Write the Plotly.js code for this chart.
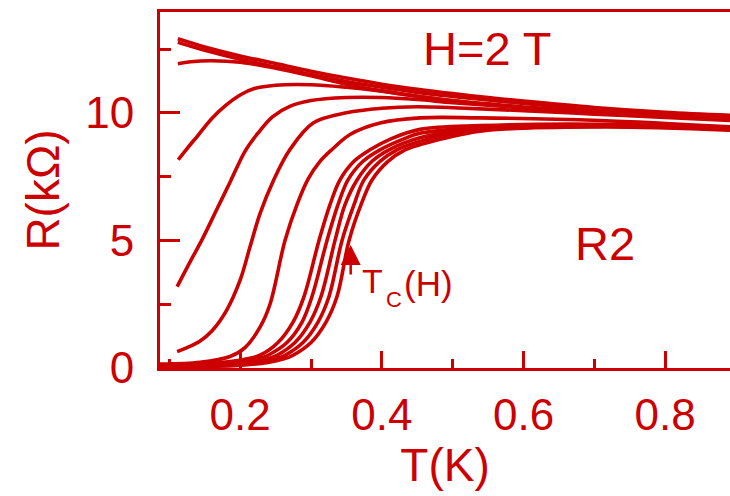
<!DOCTYPE html>
<html>
<head>
<meta charset="utf-8">
<script src="https://cdn.plot.ly/plotly-3.0.1.min.js"></script>
<style>html,body{margin:0;padding:0;background:#fff;}#chart{width:730px;height:496px;}</style>
</head>
<body>
<div id="chart"></div>
<script>
// Temperature (K) and resistance (kOhm) for each field curve
const T_A = [0.112,0.15,0.2,0.25,0.3,0.35,0.4,0.45,0.5,0.55,0.6,0.7,0.8,0.8915];
const R_A = [12.9,12.58,12.23,11.93,11.63,11.36,11.12,10.92,10.75,10.6,10.46,10.21,10.02,9.9];
const T_B = [0.112,0.15,0.2,0.25,0.3,0.35,0.4,0.45,0.5,0.55,0.6,0.7,0.8,0.8915];
const R_B = [12.76,12.45,12.1,11.8,11.5,11.23,11.0,10.8,10.64,10.5,10.37,10.14,9.97,9.86];
const T_C = [0.112,0.13,0.16,0.2,0.25,0.3,0.35,0.4,0.45,0.5,0.55,0.6,0.7,0.8,0.8915];
const R_C = [11.92,12.0,12.04,11.98,11.75,11.45,11.12,10.86,10.65,10.48,10.35,10.23,10.06,9.94,9.82];
const T_D = [0.1125,0.125,0.14,0.16,0.18,0.2,0.22,0.25,0.3,0.35,0.4,0.45,0.5,0.55,0.6,0.7,0.8,0.8915];
const R_D = [8.16,8.6,9.1,9.78,10.3,10.7,10.95,11.08,11.1,11.0,10.85,10.65,10.47,10.32,10.2,10.03,9.9,9.78];
const T_E = [0.111,0.13,0.146,0.165,0.186,0.207,0.225,0.246,0.27,0.3,0.35,0.4,0.45,0.5,0.6,0.7,0.8,0.8915];
const R_E = [3.19,4.2,5.02,6.1,7.3,8.5,9.2,9.85,10.25,10.48,10.6,10.6,10.52,10.4,10.2,10.02,9.88,9.75];
const T_F = [0.111,0.125,0.143,0.16,0.181,0.2,0.214,0.228,0.247,0.27,0.303,0.35,0.4,0.45,0.5,0.6,0.7,0.8,0.8915];
const R_F = [0.64,0.8,1.05,1.45,2.27,3.45,4.76,6.05,7.35,8.55,9.6,10.0,10.18,10.24,10.2,10.08,9.95,9.82,9.7];
const T_G = [0.0868,0.1433,0.1857,0.2068,0.228,0.2421,0.2633,0.2802,0.2958,0.3127,0.3311,0.3551,0.3974,0.4539,0.5386,0.708,0.8915];
const R_G = [0.15,0.22,0.45,0.8,1.6,2.5,5.0,6.4,7.4,8.1,8.6,9.15,9.6,9.8,9.8,9.7,9.45];
const T_H = [0.0868,0.1433,0.1857,0.2139,0.228,0.2534,0.2746,0.2901,0.3113,0.3268,0.3409,0.3607,0.3833,0.4144,0.4539,0.5386,0.708,0.8915];
const R_H = [0.1,0.15,0.25,0.38,0.5,1.0,1.8,2.8,5.0,6.4,7.37,8.1,8.55,9.0,9.35,9.5,9.55,9.42];
const T_I = [0.0868,0.1645,0.2068,0.2266,0.2393,0.2661,0.2873,0.3014,0.3226,0.3381,0.3522,0.3734,0.3974,0.4327,0.4539,0.5386,0.708,0.8915];
const R_I = [0.08,0.13,0.25,0.36,0.5,1.0,1.8,2.8,5.0,6.4,7.37,8.1,8.55,9.0,9.2,9.42,9.52,9.4];
const T_J = [0.0868,0.1744,0.2167,0.2393,0.252,0.2774,0.2986,0.3141,0.3339,0.348,0.365,0.3861,0.4101,0.4539,0.5386,0.708,0.8915];
const R_J = [0.07,0.12,0.24,0.36,0.5,1.0,1.8,2.8,5.0,6.4,7.37,8.1,8.55,9.02,9.38,9.5,9.37];
const T_K = [0.0868,0.1857,0.228,0.2506,0.2633,0.2887,0.3099,0.3254,0.3438,0.3607,0.3748,0.3974,0.4214,0.4539,0.5386,0.708,0.8915];
const R_K = [0.06,0.11,0.22,0.36,0.5,1.0,1.8,2.8,5.0,6.4,7.37,8.1,8.55,8.88,9.32,9.47,9.35];
const T_L = [0.0868,0.197,0.2393,0.2619,0.2746,0.3,0.3212,0.3367,0.3537,0.3706,0.3861,0.4087,0.4327,0.4539,0.5386,0.708,0.8915];
const R_L = [0.05,0.1,0.22,0.36,0.5,1.0,1.8,2.8,5.0,6.4,7.37,8.1,8.55,8.75,9.28,9.45,9.32];

const xTicks = [0.2, 0.4, 0.6, 0.8];
const xTickText = ['0.2', '0.4', '0.6', '0.8'];
const yTicks = [0, 5, 10];
const yTickText = ['0', '5', '10'];

const RED = '#cc0000';
const FONT = 'Liberation Sans, Arial, Helvetica, sans-serif';

const curves = [
  [T_A, R_A], [T_B, R_B], [T_C, R_C], [T_D, R_D], [T_E, R_E], [T_F, R_F],
  [T_G, R_G], [T_H, R_H], [T_I, R_I], [T_J, R_J], [T_K, R_K], [T_L, R_L]
];

const traces = curves.map(function (c) {
  return {
    x: c[0], y: c[1], type: 'scatter', mode: 'lines',
    line: {color: RED, width: 3.6, shape: 'spline', smoothing: 1},
    hoverinfo: 'skip'
  };
});

const layout = {
  width: 730, height: 496,
  margin: {l: 160, r: 0, t: 12, b: 128, pad: 0},
  paper_bgcolor: '#ffffff', plot_bgcolor: '#ffffff',
  showlegend: false,
  font: {family: FONT, color: RED},
  xaxis: {
    range: [0.0868, 0.8915],
    showline: true, linecolor: RED, linewidth: 3, mirror: true,
    showgrid: false, zeroline: false,
    ticks: 'inside', ticklen: 17, tickwidth: 3, tickcolor: RED,
    tickvals: xTicks, ticktext: xTickText,
    minor: {ticks: 'inside', ticklen: 9, tickwidth: 3, tickcolor: RED, dtick: 0.1, tick0: 0, showgrid: false},
    tickfont: {size: 44, color: RED, family: FONT},
    ticklabelstandoff: 6,
    title: {text: 'T(K)', font: {size: 46, color: RED, family: FONT}, standoff: 10}
  },
  yaxis: {
    range: [0, 13.95],
    showline: true, linecolor: RED, linewidth: 3, mirror: false,
    showgrid: false, zeroline: false,
    ticks: 'inside', ticklen: 20, tickwidth: 3, tickcolor: RED,
    tickvals: yTicks, ticktext: yTickText,
    minor: {ticks: 'inside', ticklen: 11, tickwidth: 3, tickcolor: RED, dtick: 2.5, tick0: 0, showgrid: false},
    tickfont: {size: 44, color: RED, family: FONT},
    ticklabelstandoff: 14,
    title: {text: 'R(kΩ)', font: {size: 46, color: RED, family: FONT}, standoff: 12}
  },
  annotations: [
    {x: 0.5485, y: 12.53, xref: 'x', yref: 'y', text: 'H=2 T', showarrow: false,
     xanchor: 'center', yanchor: 'middle', font: {size: 47, color: RED, family: FONT}},
    {x: 0.715, y: 4.88, xref: 'x', yref: 'y', text: 'R2', showarrow: false,
     xanchor: 'center', yanchor: 'middle', font: {size: 47, color: RED, family: FONT}},
    {x: 0.3685, y: 3.39, xref: 'x', yref: 'y', text: 'T', showarrow: false,
     xanchor: 'left', yanchor: 'middle', font: {size: 34, color: RED, family: FONT}},
    {x: 0.4035, y: 2.68, xref: 'x', yref: 'y', text: 'C', showarrow: false,
     xanchor: 'left', yanchor: 'middle', font: {size: 22, color: RED, family: FONT}},
    {x: 0.4285, y: 3.3, xref: 'x', yref: 'y', text: '(H)', showarrow: false,
     xanchor: 'left', yanchor: 'middle', font: {size: 35, color: RED, family: FONT}},
    {x: 0.356, y: 4.82, xref: 'x', yref: 'y', text: ' ', showarrow: true,
     ax: 0, ay: 38, arrowhead: 2, arrowsize: 1.6, arrowwidth: 2.5, arrowcolor: RED}
  ]
};

Plotly.newPlot('chart', traces, layout, {displayModeBar: false, staticPlot: true});
</script>
</body>
</html>
